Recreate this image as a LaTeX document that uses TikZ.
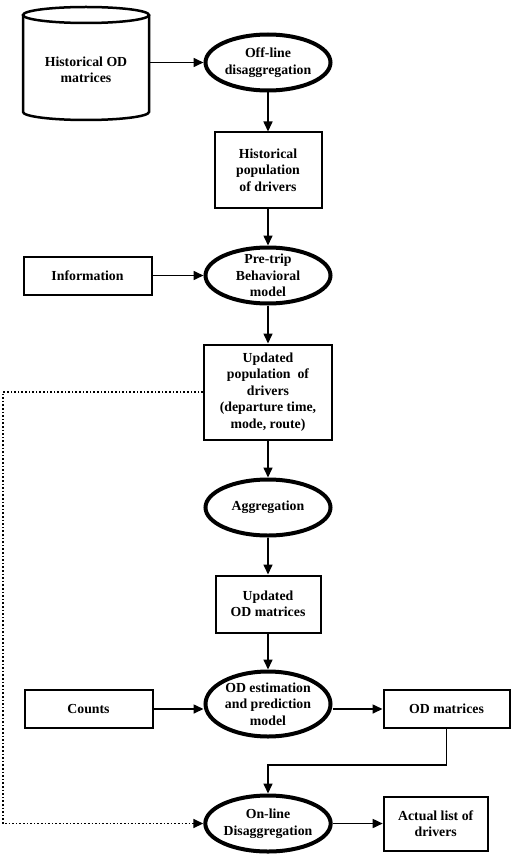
\documentclass[tikz,border=0pt]{standalone}
\usepackage{fontspec}
\setmainfont{Liberation Serif}
\usetikzlibrary{arrows.meta,positioning,shapes.geometric}
\tikzset{
  boxe/.style={rectangle, draw, line width=2pt, align=center, inner sep=0pt,
               font=\bfseries\fontsize{13.8}{16.5}\selectfont},
  ovale/.style={ellipse, draw, line width=4pt, align=center, inner sep=0pt,
                minimum width=125pt, minimum height=56pt,
                font=\bfseries\fontsize{13.8}{16.5}\selectfont},
  arr/.style={-{Triangle[length=10pt,width=9pt]}, line width=1.6pt},
}

\begin{document}
\begin{tikzpicture}[node distance=37pt]
  \useasboundingbox (0,0) rectangle (529pt,-861pt);
  % store of historical matrices
  \draw[line width=2.5pt] (23pt,-15pt) -- (23pt,-112pt)
    arc[start angle=180, end angle=360, x radius=63pt, y radius=8pt] -- (149pt,-15pt);
  \draw[line width=2.5pt] (86pt,-15pt) ellipse[x radius=63pt, y radius=8pt];
  \node[boxe, draw=none, minimum width=126pt] (hod) at (86pt,-70pt) {Historical OD\\matrices};
  \node[ovale] (off) at (268pt,-62.5pt) {Off-line\\disaggregation};
  % main column
  \node[boxe, minimum width=107pt, minimum height=75pt, below=39pt of off] (histpop)
    {Historical\\population\\of drivers};
  \node[ovale, inner ysep=-2pt, below=of histpop] (pretrip) {Pre-trip\\Behavioral\\model};
  \node[boxe, minimum width=128pt, minimum height=95pt, below=38pt of pretrip] (updpop)
    {Updated\\population~ of\\drivers\\(departure time,\\mode, route)};
  \node[ovale, below=of updpop] (agg) {Aggregation};
  \node[boxe, minimum width=105pt, minimum height=57pt, below=of agg] (updod) {Updated\\OD matrices};
  \node[ovale, minimum height=65pt, below=36pt of updod] (odest) {OD estimation\\and prediction\\model};
  \node[ovale, below=55pt of odest] (online) {On-line\\Disaggregation};
  % side inputs and outputs
  \node[boxe, minimum width=128pt, minimum height=38pt, left=51pt of pretrip] (info) {Information};
  \node[boxe, minimum width=128pt, minimum height=38pt, left=50pt of odest, yshift=-5pt] (counts) {Counts};
  \node[boxe, minimum width=126pt, minimum height=38pt, right=50pt of odest, yshift=-5pt] (odm) {OD matrices};
  \node[boxe, minimum width=104pt, minimum height=54pt, right=50pt of online] (actual) {Actual list of\\drivers};
  \coordinate[below=36pt of odm.south] (bend);
  \coordinate (lft) at (3pt,0);

  \draw[arr] (off.west -| hod.east) -- (off.west);
  \draw[arr] (off) -- (histpop); \draw[arr] (histpop) -- (pretrip);
  \draw[arr] (info) -- (pretrip); \draw[arr] (pretrip) -- (updpop);
  \draw[arr] (updpop) -- (agg); \draw[arr] (agg) -- (updod);
  \draw[arr] (updod) -- (odest);
  \draw[arr] (counts.east) -- (counts.east -| odest.west);
  \draw[arr] (odm.west -| odest.east) -- (odm.west);
  \draw[arr] (odm.south) -- (bend) -| (online.north);
  \draw[arr] (online) -- (actual);
  \draw[arr, dotted] (updpop.west) -- (updpop.west -| lft) |- (online.west);
\end{tikzpicture}
\end{document}
